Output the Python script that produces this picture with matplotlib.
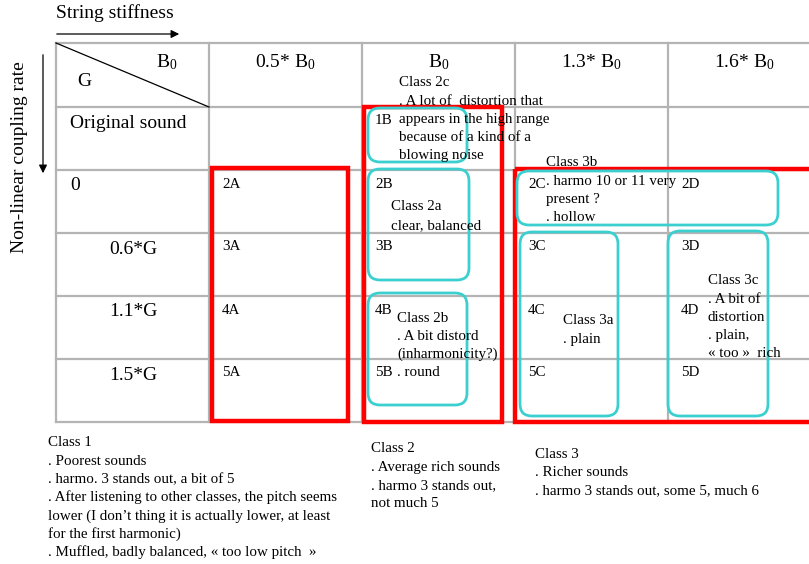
import matplotlib
matplotlib.use("Agg")
import matplotlib.pyplot as plt
from matplotlib.patches import FancyBboxPatch, Rectangle

plt.rcParams['font.family'] = ['Liberation Serif', 'DejaVu Serif']
plt.rcParams['mathtext.default'] = 'regular'

# table content
col_labels = ['0.5* B$_0$', 'B$_0$', '1.3* B$_0$', '1.6* B$_0$']
row_labels = ['Original sound', '0', '0.6*G', '1.1*G', '1.5*G']
row_numbers = ['1', '2', '3', '4', '5']
col_letters = ['A', 'B', 'C', 'D']
# which cells hold a sound sample (row index, col index)
cells = [(0, 1)] + [(r, c) for r in range(1, 5) for c in range(4)]

class1_notes = ['Class 1', '. Poorest sounds', '. harmo. 3 stands out, a bit of 5',
                '. After listening to other classes, the pitch seems',
                'lower (I don\u2019t thing it is actually lower, at least',
                'for the first harmonic)',
                '. Muffled, badly balanced, \u00ab too low pitch  \u00bb']
class2_notes = ['Class 2', '. Average rich sounds', '. harmo 3 stands out,', 'not much 5']
class3_notes = ['Class 3', '. Richer sounds', '. harmo 3 stands out, some 5, much 6']

class2c_notes = ['Class 2c', '. A lot of  distortion that', 'appears in the high range',
                 'because of a kind of a', 'blowing noise']
class2a_notes = ['Class 2a', 'clear, balanced']
class2b_notes = ['Class 2b', '. A bit distord', '(inharmonicity?)']
class3b_notes = ['Class 3b', '. harmo 10 or 11 very', 'present ?', '. hollow']
class3a_notes = ['Class 3a', '. plain']
class3c_notes = ['Class 3c', '. A bit of', 'distortion', '. plain,', '\u00ab too \u00bb  rich']

# layout (pixels)
col_x = [56, 209, 362, 515, 668, 821]
row_y = [43, 107, 170, 233, 296, 359, 422]
W, H = 809, 564
big = 14
small = 10.8
lh = 18.2
grid_c = '#b4b4b4'
red = '#ff0000'
cyan = '#3ccfcf'

fig = plt.figure(figsize=(W / 100, H / 100), dpi=100)
ax = fig.add_axes([0, 0, 1, 1])
ax.set_xlim(0, W)
ax.set_ylim(H, 0)
ax.axis('off')

# grid
for x in col_x:
    ax.plot([x, x], [row_y[0], row_y[-1]], color=grid_c, lw=1.6, zorder=1)
for y in row_y:
    ax.plot([col_x[0], col_x[-1]], [y, y], color=grid_c, lw=1.6, zorder=1)
ax.plot([col_x[0], col_x[1]], [row_y[0], row_y[1]], color='black', lw=0.9, zorder=2)

# axis arrows and titles
ax.annotate('', xy=(182, 34), xytext=(54, 34),
            arrowprops=dict(arrowstyle='-|>', color='black', lw=0.9, mutation_scale=12))
ax.text(56, 13, 'String stiffness', fontsize=big, va='center', ha='left')
ax.annotate('', xy=(43, 176), xytext=(43, 52),
            arrowprops=dict(arrowstyle='-|>', color='black', lw=0.9, mutation_scale=12))
ax.text(20, 157, 'Non-linear coupling rate', fontsize=big, rotation=90, va='center', ha='center')

# header cell
ax.text(167, 62, 'B$_0$', fontsize=big, ha='center', va='center')
ax.text(84, 82, 'G', fontsize=big, ha='center', va='center')
for i, lab in enumerate(col_labels):
    ax.text((col_x[i + 1] + col_x[i + 2]) / 2, 62, lab, fontsize=big, ha='center', va='center')

# row labels
for i, lab in enumerate(row_labels):
    x = 70 if i < 2 else 109
    ax.text(x, row_y[i + 1] + 16, lab, fontsize=big, ha='left', va='center')

# cell codes
for r, c in cells:
    ax.text(col_x[c + 1] + 13, row_y[r + 1] + 14, row_numbers[r] + col_letters[c],
            fontsize=small, ha='left', va='center')

# class boxes (red)
for x0, y0, x1, y1 in [(212, 168, 348, 421), (364, 107, 502, 422), (515, 169, 840, 422)]:
    ax.add_patch(Rectangle((x0, y0), x1 - x0, y1 - y0, fill=False, ec=red, lw=3.2, zorder=3))

# sub-class boxes (cyan)
for x0, y0, x1, y1 in [(368, 108, 467, 162), (368, 169, 469, 280), (368, 293, 467, 405),
                       (517, 171, 778, 225), (520, 232, 618, 416), (668, 231, 768, 416)]:
    ax.add_patch(FancyBboxPatch((x0, y0), x1 - x0, y1 - y0,
                                boxstyle='round,pad=0,rounding_size=12',
                                fill=False, ec=cyan, lw=2, zorder=4))


def notes(x, y, lines):
    for k, s in enumerate(lines):
        ax.text(x, y + k * lh, s, fontsize=small, ha='left', va='center', zorder=5)


notes(399, 83, class2c_notes)
notes(391, 207, class2a_notes)
notes(397, 318, class2b_notes)
ax.text(397, 373, '. round', fontsize=small, ha='left', va='center')
notes(546, 163, class3b_notes)
notes(563, 321, class3a_notes)
notes(708, 281, class3c_notes)

notes(48, 443, class1_notes)
notes(371, 449, class2_notes)
notes(535, 454, class3_notes)

fig.savefig('out.png', dpi=100)
